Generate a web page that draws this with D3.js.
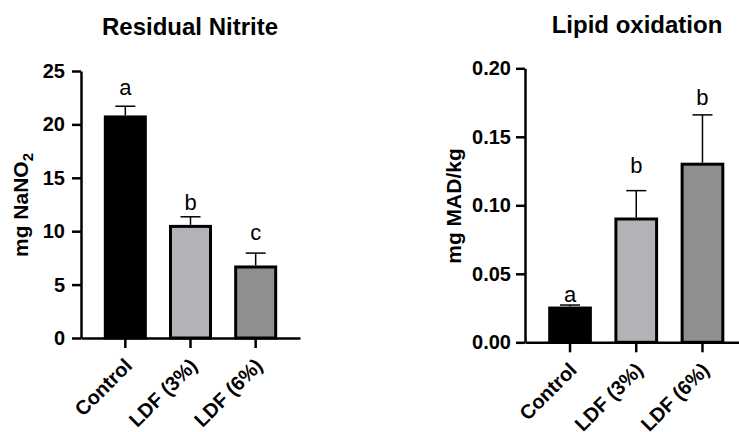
<!DOCTYPE html>
<html>
<head>
<meta charset="utf-8">
<script src="https://cdn.jsdelivr.net/npm/d3@7"></script>
<style>
  body { margin: 0; background: #fff; }
  svg { display: block; font-family: "Liberation Sans", Arial, Helvetica, sans-serif; }
</style>
</head>
<body>
<div id="chart"></div>
<script>
// groups shared by both panels
var groups = ["Control", "LDF (3%)", "LDF (6%)"];
var barColors = ["#000000", "#b3b3b7", "#8f8f8f"];

// Residual nitrite (mg NaNO2)
var nitriteMean = [20.7, 10.45, 6.65];
var nitriteErr = [1.0, 0.9, 1.3];
var nitriteLetters = ["a", "b", "c"];
var nitriteLetterAt = [22.75, 12.0, 9.2];
var nitriteTicks = [0, 5, 10, 15, 20, 25];

// Lipid oxidation (mg MAD/kg)
var lipidMean = [0.025, 0.090, 0.130];
var lipidErr = [0.0022, 0.0207, 0.036];
var lipidLetters = ["a", "b", "b"];
var lipidLetterAt = [0.0296, 0.1236, 0.1733];
var lipidTicks = [0, 0.05, 0.10, 0.15, 0.20];

var svgWidth = 739;
var svgHeight = 432;

var svg = d3.select("#chart")
  .append("svg")
  .attr("width", svgWidth)
  .attr("height", svgHeight);

function drawPanel(p) {
  var g = svg.append("g");

  var x = d3.scaleBand()
    .domain(groups)
    .range([p.left, p.right])
    .paddingInner(0.34)
    .paddingOuter(0.35);

  var y = d3.scaleLinear()
    .domain([0, p.max])
    .range([p.bottom, p.top]);

  var rows = groups.map(function(d, i) {
    return { name: d, mean: p.mean[i], err: p.err[i], letter: p.letters[i], at: p.letterAt[i], color: barColors[i] };
  });

  // bars
  g.selectAll("rect.bar")
    .data(rows)
    .enter()
    .append("rect")
    .attr("class", "bar")
    .attr("x", d => x(d.name) + 1.5)
    .attr("width", x.bandwidth() - 3)
    .attr("y", d => y(d.mean))
    .attr("height", d => y(0) - y(d.mean))
    .attr("fill", d => d.color)
    .attr("stroke", "#000")
    .attr("stroke-width", 3);

  // upper error bars
  var cx = d => x(d.name) + x.bandwidth() / 2;
  g.selectAll("line.err")
    .data(rows)
    .enter()
    .append("line")
    .attr("x1", cx).attr("x2", cx)
    .attr("y1", d => y(d.mean) - 1.5)
    .attr("y2", d => y(d.mean + d.err))
    .attr("stroke", "#000")
    .attr("stroke-width", 1.5);

  g.selectAll("line.cap")
    .data(rows)
    .enter()
    .append("line")
    .attr("x1", d => cx(d) - 10).attr("x2", d => cx(d) + 10)
    .attr("y1", d => y(d.mean + d.err))
    .attr("y2", d => y(d.mean + d.err))
    .attr("stroke", "#000")
    .attr("stroke-width", 1.5);

  // significance letters
  g.selectAll("text.letter")
    .data(rows)
    .enter()
    .append("text")
    .attr("x", cx)
    .attr("y", d => y(d.at))
    .attr("text-anchor", "middle")
    .attr("font-size", 22)
    .text(d => d.letter);

  // y axis
  var yAxis = g.append("g")
    .attr("transform", `translate(${p.left}, 0)`)
    .call(d3.axisLeft(y).tickValues(p.ticks).tickFormat(p.fmt).tickSize(9).tickSizeOuter(0).tickPadding(p.tickPad));

  // x axis
  var xAxis = g.append("g")
    .attr("transform", `translate(0, ${p.bottom})`)
    .call(d3.axisBottom(x).tickSize(10).tickSizeOuter(0));
  xAxis.selectAll("text").remove();

  [yAxis, xAxis].forEach(function(a) {
    a.select(".domain").attr("stroke-width", 2.5);
    a.selectAll(".tick line").attr("stroke-width", 2.5);
  });
  yAxis.selectAll("text")
    .attr("font-size", 20)
    .attr("font-weight", "bold")
    .attr("font-family", "Liberation Sans, Arial, sans-serif")
    .attr("fill", "#000");

  // rotated category labels
  g.selectAll("text.cat")
    .data(rows)
    .enter()
    .append("text")
    .attr("transform", d => `translate(${cx(d) + 8}, ${p.bottom + 29}) rotate(-45)`)
    .attr("text-anchor", "end")
    .attr("font-size", 20)
    .attr("font-weight", "bold")
    .text(d => d.name);

  // title
  g.append("text")
    .attr("x", p.titleX)
    .attr("y", p.titleY)
    .attr("text-anchor", "middle")
    .attr("font-size", 24)
    .attr("font-weight", "bold")
    .text(p.title);

  // y label
  var yl = g.append("text")
    .attr("transform", `translate(${p.labelX}, ${p.labelY}) rotate(-90)`)
    .attr("text-anchor", "middle")
    .attr("font-size", p.labelSize)
    .attr("font-weight", "bold");
  yl.append("tspan").text(p.label);
  if (p.sub) {
    yl.append("tspan")
      .attr("font-size", 15)
      .attr("dy", 5)
      .text(p.sub);
  }
}

drawPanel({
  left: 81, right: 300, top: 71, bottom: 338, max: 25,
  mean: nitriteMean, err: nitriteErr, letters: nitriteLetters, letterAt: nitriteLetterAt,
  ticks: nitriteTicks, fmt: d3.format("d"), tickPad: 7,
  title: "Residual Nitrite", titleX: 190, titleY: 35,
  label: "mg NaNO", sub: "2", labelX: 28, labelY: 205, labelSize: 21
});

drawPanel({
  left: 525, right: 747.5, top: 68.3, bottom: 342.3, max: 0.2,
  mean: lipidMean, err: lipidErr, letters: lipidLetters, letterAt: lipidLetterAt,
  ticks: lipidTicks, fmt: d3.format(".2f"), tickPad: 5,
  title: "Lipid oxidation", titleX: 637, titleY: 33,
  label: "mg MAD/kg", sub: null, labelX: 461, labelY: 206, labelSize: 21
});
</script>
</body>
</html>
